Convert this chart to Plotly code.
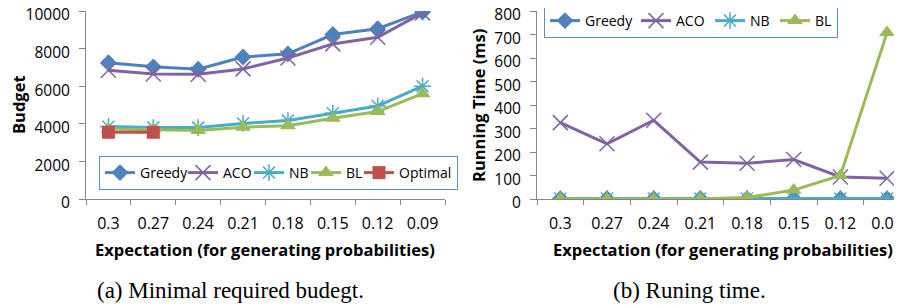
import plotly.graph_objects as go

categories = ["0.3", "0.27", "0.24", "0.21", "0.18", "0.15", "0.12", "0.09"]

# (a) Minimal required budget
budget_greedy = [7250, 7030, 6900, 7550, 7720, 8750, 9060, 9950]
budget_aco = [6850, 6650, 6640, 6920, 7500, 8250, 8600, 9900]
budget_nb = [3850, 3800, 3800, 4020, 4170, 4560, 4950, 6000]
budget_bl = [3720, 3700, 3650, 3820, 3900, 4300, 4650, 5600]
budget_optimal = [3550, 3550]

# (b) Running time (ms)
time_greedy = [1, 1, 1, 1, 1, 1, 1, 1]
time_aco = [325, 235, 335, 157, 152, 168, 94, 88]
time_nb = [2, 2, 2, 2, 2, 2, 2, 2]
time_bl = [0, 0, 0, 1, 6, 38, 100, 708]

C_GREEDY = "#4F81BD"
C_ACO = "#8064A2"
C_NB = "#4BACC6"
C_BL = "#9BBB59"
C_OPT = "#C0504D"

FONT = "Open Sans"
OFF = 8  # page body margin
W, H = 902 - OFF, 305 - OFF

def px_x(p):
    return (p - OFF) / W

def px_y(p):
    return 1 - (p - OFF) / H

fig = go.Figure()

def add_series(x, y, name, color, symbol, size, xa, ya, legend, mline=0, lw=None):
    fig.add_trace(go.Scatter(
        x=x, y=y, name=name, mode="lines+markers",
        line=dict(color=color, width=3),
        marker=dict(symbol=symbol, size=size, color=color,
                    line=dict(color=color, width=mline)),
        xaxis=xa, yaxis=ya, legend=legend, legendwidth=lw,
    ))

add_series(categories, budget_greedy, "Greedy", C_GREEDY, "diamond", 13, "x", "y", "legend", lw=38)
add_series(categories, budget_aco, "ACO", C_ACO, "x-thin", 15, "x", "y", "legend", 1.5, lw=21)
add_series(categories, budget_nb, "NB", C_NB, "asterisk", 14, "x", "y", "legend", 1.5, lw=12)
add_series(categories, budget_bl, "BL", C_BL, "triangle-up", 14, "x", "y", "legend", lw=8)
add_series(categories[:len(budget_optimal)], budget_optimal, "Optimal", C_OPT, "square", 13, "x", "y", "legend")

add_series(categories, time_greedy, "Greedy", C_GREEDY, "diamond", 13, "x2", "y2", "legend2", lw=46)
add_series(categories, time_aco, "ACO", C_ACO, "x-thin", 15, "x2", "y2", "legend2", 1.5, lw=29)
add_series(categories, time_nb, "NB", C_NB, "asterisk", 14, "x2", "y2", "legend2", 1.5, lw=20)
add_series(categories, time_bl, "BL", C_BL, "triangle-up", 14, "x2", "y2", "legend2")

axis_common = dict(
    showline=True, linecolor="#868686", linewidth=1,
    ticks="outside", tickcolor="#868686",
    showgrid=False, zeroline=False, automargin=False,
    ticklabeloverflow="allow",
)
xfont = dict(family=FONT, size=16, color="#000")
yfont = dict(family=FONT, size=15.5, color="#000")

fig.update_layout(
    width=W, height=H,
    margin=dict(l=0, r=0, t=0, b=0, autoexpand=False),
    paper_bgcolor="white", plot_bgcolor="white",
    font=dict(family=FONT, size=15, color="#000"),
    xaxis=dict(domain=[px_x(86), px_x(445)], anchor="y", type="category",
               categoryorder="array", categoryarray=categories,
               range=[-0.5, 7.5], tickson="boundaries", ticklen=5,
               ticklabelstandoff=10, tickfont=xfont, **axis_common),
    yaxis=dict(domain=[px_y(199), px_y(11)], anchor="x", range=[0, 10000],
               tickvals=[0, 2000, 4000, 6000, 8000, 10000], tickformat="d",
               ticklen=6, ticklabelstandoff=6, ticklabelshift=4, tickfont=yfont,
               **axis_common),
    xaxis2=dict(domain=[px_x(537), 1.0], anchor="y2", type="category",
                categoryorder="array", categoryarray=categories,
                range=[-0.5, 7.32], tickson="boundaries", ticklen=5,
                ticklabelstandoff=10, tickfont=xfont, **axis_common),
    yaxis2=dict(domain=[px_y(199), px_y(11)], anchor="x2", range=[0, 800],
                tickvals=[0, 100, 200, 300, 400, 500, 600, 700, 800], tickformat="d",
                ticklen=6, ticklabelstandoff=6, ticklabelshift=4, tickfont=yfont,
                **axis_common),
    legend=dict(orientation="h", x=px_x(99), y=px_y(173), xanchor="left", yanchor="middle",
                bgcolor="white", bordercolor="#5B8BCB", borderwidth=1,
                font=dict(family=FONT, size=14), itemwidth=30,
                tracegroupgap=0),
    legend2=dict(orientation="h", x=px_x(544), y=px_y(21), xanchor="left", yanchor="middle",
                 bgcolor="white", bordercolor="#5B8BCB", borderwidth=1,
                 font=dict(family=FONT, size=14), itemwidth=30,
                 tracegroupgap=0),
    showlegend=True,
)

title_font = dict(family=FONT, size=16.5, color="#000")
cap_font = dict(family="Liberation Serif", size=23, color="#000")
annotations = [
    dict(text="<b>Budget</b>", x=px_x(19), y=px_y(105), textangle=-90, font=title_font),
    dict(text="<b>Running Time (ms)</b>", x=px_x(479), y=px_y(105), textangle=-90, font=title_font),
    dict(text="<b>Expectation (for generating probabilities)</b>", x=px_x(265), y=px_y(249), font=title_font),
    dict(text="<b>Expectation (for generating probabilities)</b>", x=px_x(723), y=px_y(249), font=title_font),
    dict(text="(a) Minimal required budegt.", x=px_x(230), y=px_y(290), font=cap_font),
    dict(text="(b) Runing time.", x=px_x(689), y=px_y(290), font=cap_font),
]
for a in annotations:
    a.update(xref="paper", yref="paper", showarrow=False, xanchor="center", yanchor="middle")
fig.update_layout(annotations=annotations)

fig.write_html("out.html")
